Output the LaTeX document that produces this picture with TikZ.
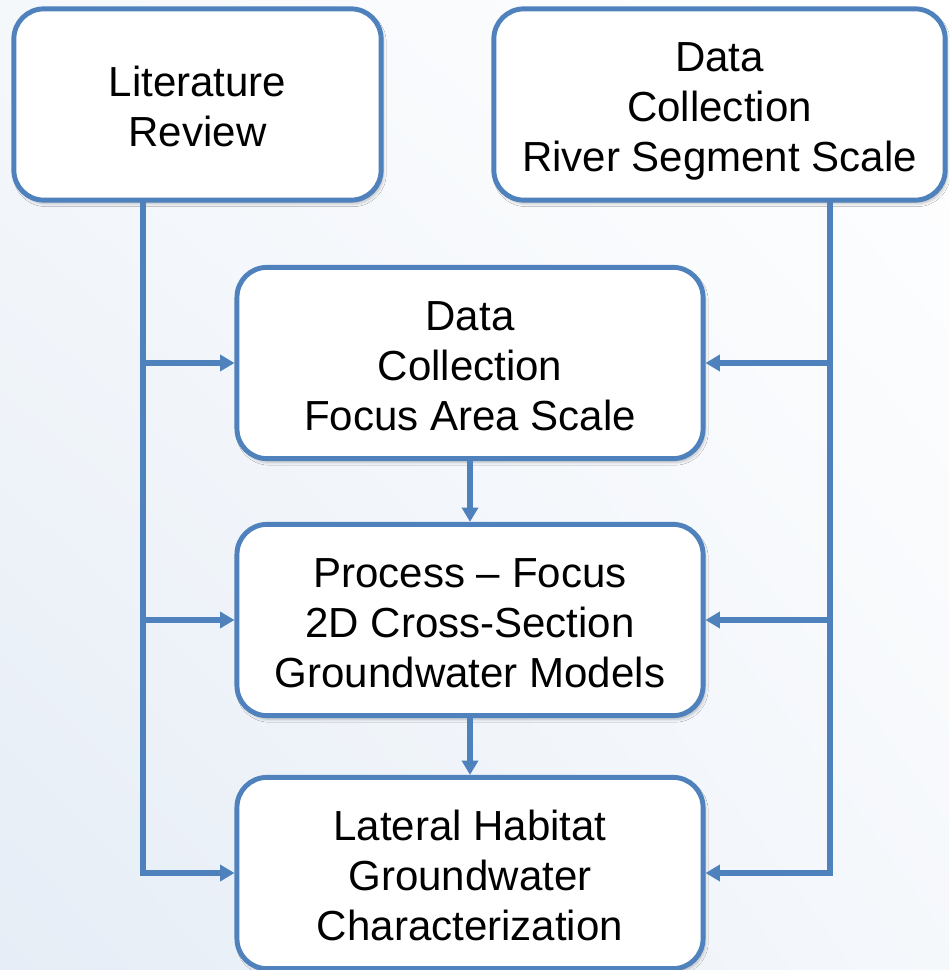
\documentclass[tikz,border=0pt]{standalone}
\usepackage{fontspec}
\setmainfont{Liberation Sans}
\usepackage{tikz}
\usepackage{xcolor}
\usetikzlibrary{arrows.meta,positioning,calc,shadings,shadows.blur}
\definecolor{flowblue}{HTML}{4F81BD}
\definecolor{bglow}{HTML}{E6EDF6}
\definecolor{bghigh}{HTML}{FFFFFF}

\begin{document}
\begin{tikzpicture}[
    x=0.025cm, y=-0.025cm,
    box/.style={draw=flowblue, fill=white, line width=3.5pt, rounded corners=0.75cm,
                minimum height=4.78cm, align=flush center, text width=10.5cm,
                font=\fontsize{29.9}{35.6}\selectfont,
                execute at begin node={\rule{0pt}{31pt}},
                execute at end node={\rule[-6.5pt]{0pt}{6.5pt}},
                blur shadow={shadow xshift=1.5pt, shadow yshift=-2.5pt,
                             shadow blur steps=6, shadow opacity=25}},
    arr/.style={-{Triangle[length=0.36cm, width=0.4cm]}, line width=3.6pt, color=flowblue}
]
  % Background
  \shade[lower left=bglow, upper right=bghigh, lower right=bghigh!60!bglow,
         upper left=bghigh!60!bglow] (0,970) rectangle (949,0);
  \useasboundingbox (0,0) rectangle (949,970);
  % Top boxes
  \node[box, text width=8cm, minimum width=9.18cm] (lit) at (197.5,104.5) {Literature\\Review};
  \node[box, minimum width=11.28cm] (river) at (719.5,104.5) {Data\\Collection\\River Segment Scale};
  % Middle column
  \node[box, minimum width=11.65cm] (focus) at (470,363) {Data\\Collection\\Focus Area Scale};
  \node[box, minimum width=11.65cm] (proc) at (470,620) {Process -- Focus\\2D Cross-Section\\Groundwater Models};
  \node[box, minimum width=11.65cm] (lat) at (470,873) {Lateral Habitat\\Groundwater\\Characterization};
  % Feeder lines
  \coordinate (ltop) at (143,200);
  \coordinate (rtop) at (830,200);
  \draw[arr] (ltop) |- (lat.west);
  \draw[arr] (ltop |- focus.west) -- (focus.west);
  \draw[arr] (ltop |- proc.west) -- (proc.west);
  \draw[arr] (rtop) |- (lat.east);
  \draw[arr] (rtop |- focus.east) -- (focus.east);
  \draw[arr] (rtop |- proc.east) -- (proc.east);
  % Main column
  \draw[arr] (focus) -- (proc);
  \draw[arr] (proc) -- (lat);
\end{tikzpicture}
\end{document}
